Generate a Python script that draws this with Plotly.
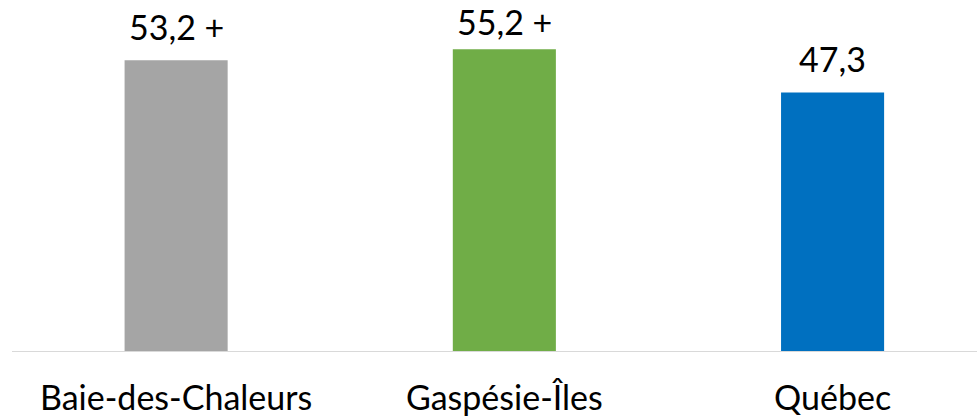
import plotly.graph_objects as go

# Regions and their values
regions = ["Baie-des-Chaleurs", "Gaspésie-Îles", "Québec"]
values = [53.2, 55.2, 47.3]
flags = [" +", " +", ""]
colors = ["#a5a5a5", "#70ad47", "#0070c0"]

labels = [f"{v:.1f}".replace(".", ",") + f for v, f in zip(values, flags)]

FONT = "Lato"
SIZE = 34
Y_MAX = 64.2
PLOT_H = 417 - 66          # plot-area height in px
PX_PER_UNIT = PLOT_H / Y_MAX
LABEL_NEED = 55            # px a value label needs above its bar

fig = go.Figure(
    go.Bar(
        x=regions,
        y=values,
        marker=dict(color=colors, line=dict(width=0)),
        width=0.314,
        hoverinfo="skip",
    )
)

for r, v, t in zip(regions, values, labels):
    # keep the label inside the plot area when the bar is close to the top
    room = (Y_MAX - v) * PX_PER_UNIT
    shift = 12 - max(0.0, LABEL_NEED - room)
    fig.add_annotation(
        x=r, y=v, text=t, showarrow=False,
        yanchor="bottom", yshift=shift, borderpad=0,
        font=dict(family=FONT, size=SIZE, color="#000000"),
    )

fig.update_layout(
    width=977, height=417,
    margin=dict(l=12, r=0, t=0, b=66),
    paper_bgcolor="white", plot_bgcolor="white",
    showlegend=False,
    font=dict(family=FONT, size=SIZE, color="#000000"),
)
fig.update_xaxes(
    range=[-0.5, 2.44],
    showline=True, linecolor="#d9d9d9", linewidth=1.3,
    showgrid=False, zeroline=False, ticks="",
    ticklabelstandoff=17,
    tickfont=dict(family=FONT, size=SIZE, color="#000000"),
)
fig.update_yaxes(
    range=[0, Y_MAX],
    showgrid=False, zeroline=False, showticklabels=False, showline=False,
)

fig.write_html("out.html")
